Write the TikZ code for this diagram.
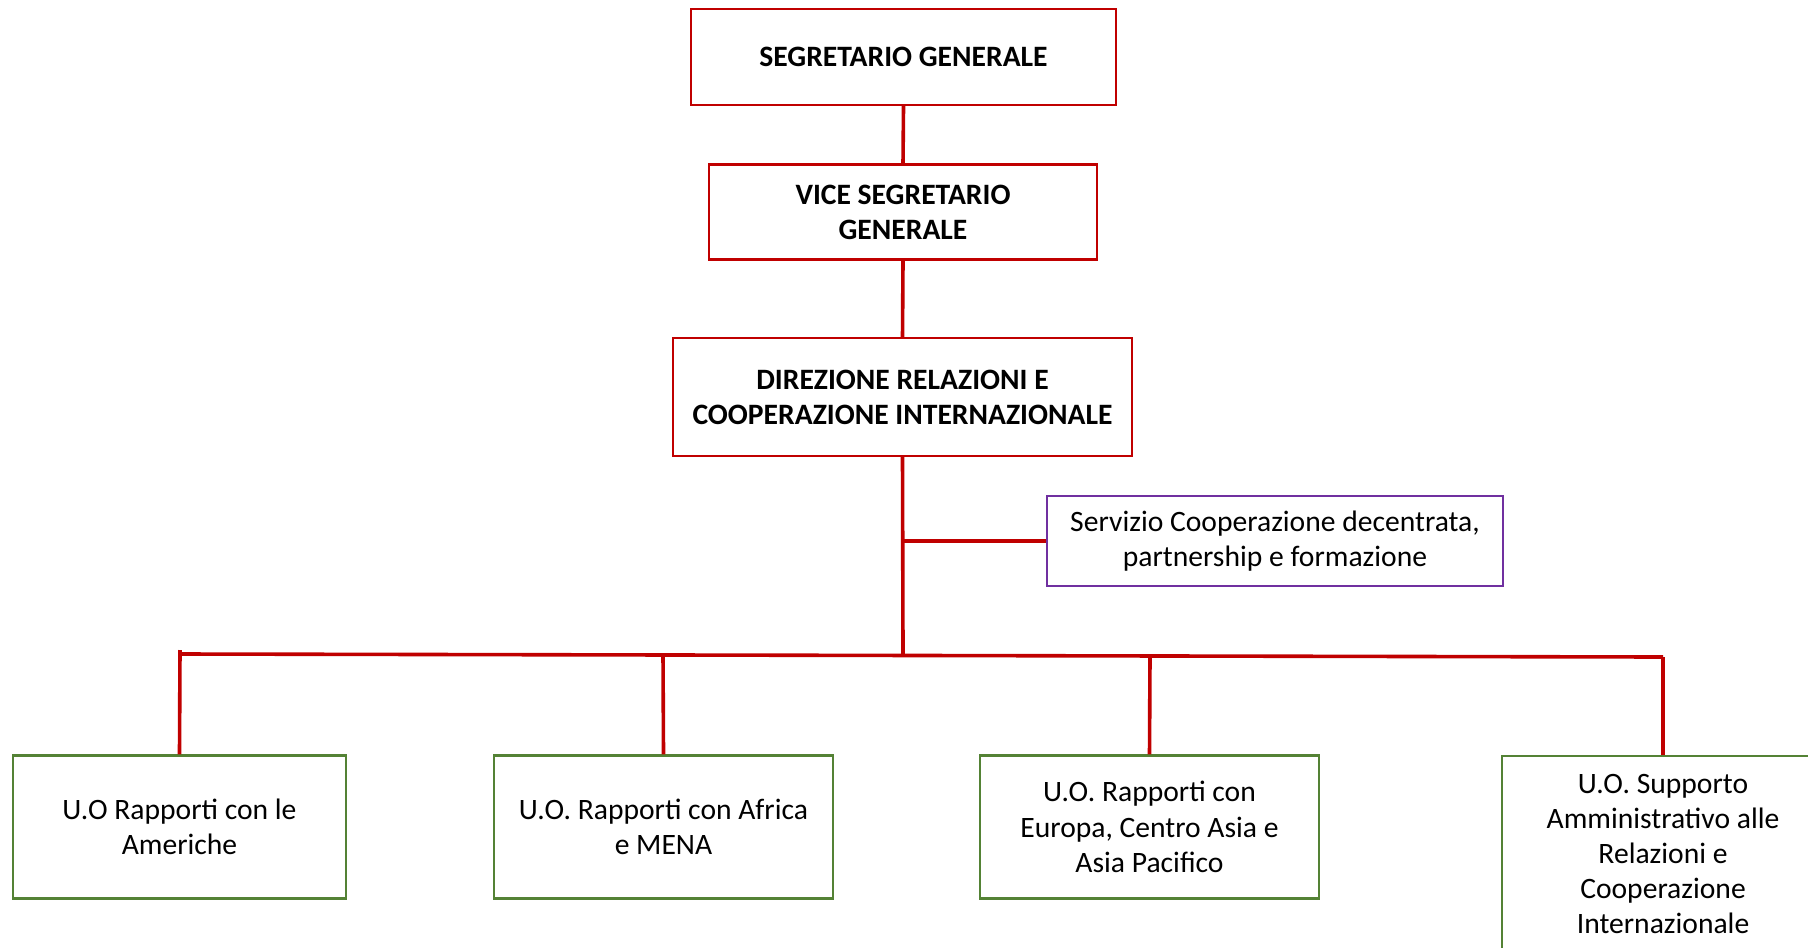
\documentclass[tikz,border=0pt]{standalone}
\usepackage{fontspec}
\setmainfont{Carlito}
\definecolor{boxred}{HTML}{C00000}
\definecolor{boxgreen}{HTML}{548235}
\definecolor{boxpurple}{HTML}{7030A0}
\begin{document}
\begin{tikzpicture}[x=0.5pt,y=-0.5pt,
  base/.style={draw,line width=1.2pt,fill=white,inner sep=0pt,align=center,
    font=\fontsize{14.8}{17.6}\selectfont},
  redbox/.style={base,draw=boxred,font=\fontsize{14.8}{17.6}\selectfont\bfseries},
  greenbox/.style={base,draw=boxgreen},
  purplebox/.style={base,draw=boxpurple},
  conn/.style={draw=boxred,line width=1.8pt}]
\useasboundingbox (0,0) rectangle (1808,947);
\begin{scope}
\clip (0,0) rectangle (1808,947);
\node[redbox,minimum width=212.5pt,minimum height=48pt] (seg) at (903.5,57) {SEGRETARIO GENERALE};
\node[redbox,minimum width=194pt,minimum height=47.5pt] (vice) at (903,212) {VICE SEGRETARIO\\GENERALE};
\node[redbox,minimum width=229.5pt,minimum height=59pt] (dir) at (902.5,397) {DIREZIONE RELAZIONI E\\COOPERAZIONE INTERNAZIONALE};
\node[purplebox,minimum width=228pt,minimum height=45pt] (serv) at (1275,541) {Servizio Cooperazione decentrata,\\partnership e formazione};
\node[greenbox,minimum width=166.5pt,minimum height=71.5pt] (g1) at (179.5,827) {U.O Rapporti con le\\Americhe};
\node[greenbox,minimum width=169.5pt,minimum height=71.5pt] (g2) at (663.5,827) {U.O. Rapporti con Africa\\e MENA};
\node[greenbox,minimum width=169.5pt,minimum height=71.5pt] (g3) at (1149.5,827) {U.O. Rapporti con\\Europa, Centro Asia e\\Asia Pacifico};
\node[greenbox,minimum width=161pt,minimum height=98pt] (g4) at (1663,854) {U.O. Supporto\\Amministrativo alle\\Relazioni e\\Cooperazione\\Internazionale};
\coordinate (barL) at (180,654);
\coordinate (barR) at (1663,657);
\coordinate (bus) at (903,655.5);
\coordinate (j2) at (663,655);
\coordinate (j3) at (1150,656);
\draw[conn] (seg.south) -- (vice.north);
\draw[conn] (vice.south) -- (dir.north);
\draw[conn] (dir.south) -- (bus);
\draw[conn] (dir.south |- serv.west) -- (serv.west);
\draw[conn] (barL) -- (barR);
\draw[conn] (barL) ++(0,-4) -- (g1.north);
\draw[conn] (j2) -- (g2.north);
\draw[conn] (j3) -- (g3.north);
\draw[conn] (barR) -- (g4.north);
\end{scope}
\end{tikzpicture}
\end{document}
